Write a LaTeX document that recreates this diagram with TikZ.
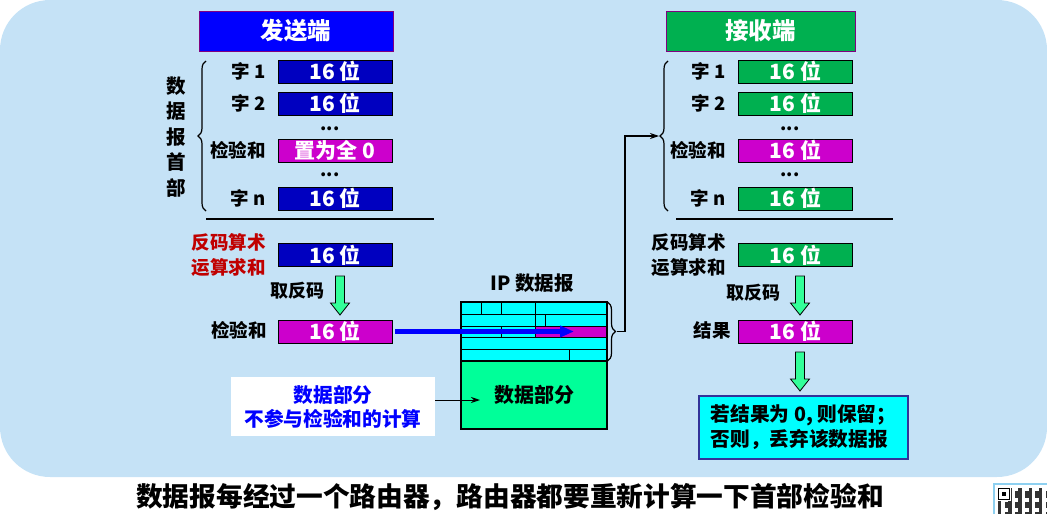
\documentclass[tikz,border=0pt]{standalone}
\usepackage{fontspec}
\setmainfont{Noto Sans CJK SC}
\usetikzlibrary{decorations.pathreplacing,arrows.meta,calc}
\definecolor{bg}{RGB}{197,226,246}
\definecolor{tblue}{RGB}{0,0,255}
\definecolor{sblue}{RGB}{0,0,192}
\definecolor{mag}{RGB}{204,0,204}
\definecolor{rgreen}{RGB}{0,176,80}
\definecolor{cyanf}{RGB}{0,255,255}
\definecolor{dgreen}{RGB}{0,255,153}
\definecolor{agreen}{RGB}{51,255,153}
\definecolor{dred}{RGB}{192,0,0}
\definecolor{rborder}{RGB}{51,51,153}
\definecolor{qrb}{RGB}{142,208,240}
\newcommand\garrow[2]{\draw[line width=0.8pt,fill=agreen,line join=miter]
  (#1-4.5,#2) -- (#1+4.5,#2) -- (#1+4.5,#2+27) -- (#1+9.5,#2+27) -- (#1,#2+39)
  -- (#1-9.5,#2+27) -- (#1-4.5,#2+27) -- cycle;}
\begin{document}
\begin{tikzpicture}[x=1pt,y=-1pt,
  lab/.style={font=\bfseries\fontsize{18.5}{25}\selectfont, anchor=east, inner sep=0pt},
  fld/.style={draw=black, line width=0.9pt, minimum width=114pt, minimum height=23pt,
    inner sep=0pt, text=white, font=\bfseries\fontsize{21}{21}\selectfont},
  sfld/.style={fld, fill=sblue},
  rfld/.style={fld, fill=rgreen},
  cfld/.style={fld, fill=mag},
  title/.style={draw={rgb,255:red,128;green,0;blue,128}, line width=0.8pt, minimum height=40pt,
    inner sep=0pt, text=white, font=\bfseries\fontsize{23.5}{23.5}\selectfont},
  dots/.style={font=\bfseries\fontsize{18}{18}\selectfont, inner sep=0pt},
  brc/.style={decorate, decoration={brace, amplitude=8pt, raise=0pt}, line width=1.2pt},
  hdr/.style={line width=0.8pt}
]
\useasboundingbox (0,0) rectangle (1047,514);
\fill[bg, rounded corners=50pt] (0,0) rectangle (1047,477);

% ---------- sender ----------
\node[title, fill=tblue, minimum width=194pt] (stitle) at (296,31) {发送端};
\node[sfld] (s1) at (335,71.5) {16 位};
\node[sfld] (s2) at (335,103.5) {16 位};
\node[cfld] (sc) at (335,150.5) {置为全 0};
\node[sfld] (sn) at (335,198.5) {16 位};
\node[lab] (ls1) at (266,71.5) {字 1};
\node[lab] (ls2) at (266,103.5) {字 2};
\node[lab] (lsc) at (266,150.5) {检验和};
\node[lab] (lsn) at (266,198.5) {字 n};
\node[dots] (sd1) at (330,129) {...};
\node[dots] (sd2) at (330,175) {...};
\draw[brc] (206,211) -- coordinate[midway] (lbm) (206,61);
\node[font=\bfseries\fontsize{19.5}{25.5}\selectfont, align=center, inner sep=0pt] (vhdr) at (176,137) {数\\据\\报\\首\\部};
\coordinate (sl1) at (206,219);
\coordinate (sl2) at (434,219);
\draw[line width=1.2pt] (sl1) -- (sl2);
\node[sfld] (ssum) at (335,255) {16 位};
\node[lab, text=dred, align=right] (lssum) at (266,255) {反码算术\\运算求和};
\garrow{340}{276}
\node[font=\bfseries\fontsize{18}{18}\selectfont, inner sep=0pt] (sinv) at (297,291) {取反码};
\node[cfld] (sck) at (335,331.5) {16 位};
\node[lab] (lsck) at (267,330.5) {检验和};

% ---------- IP datagram ----------
\node[font=\bfseries\fontsize{19.5}{19.5}\selectfont, inner sep=0pt] (iplab) at (532,283) {IP 数据报};
\node[draw=black, line width=1.6pt, fill=dgreen, minimum width=146pt, minimum height=68pt,
  inner sep=0pt, font=\bfseries\fontsize{20}{20}\selectfont] (data) at (534,395) {数据部分};
\fill[cyanf] (461,302) rectangle (607,361);
\fill[mag] (535,326) rectangle (607,337);
\draw[hdr] (461,314) -- (607,314);
\draw[hdr] (461,326) -- (607,326);
\draw[hdr] (461,337) -- (607,337);
\draw[hdr] (461,349) -- (607,349);
\draw[hdr] (481,302) -- (481,314);
\draw[hdr] (501,302) -- (501,314);
\draw[hdr] (535,302) -- (535,326);
\draw[hdr] (545,314) -- (545,326);
\draw[hdr] (501,326) -- (501,337);
\draw[hdr] (535,326) -- (535,337);
\draw[hdr] (569,349) -- (569,361);
\draw[line width=1.6pt] (461,302) rectangle (607,361);
\node[inner sep=0pt, minimum width=146pt, minimum height=59pt] (iphdr) at (534,331.5) {};
\draw[-{Triangle[length=14pt,width=11pt]}, line width=4.5pt, tblue] (sck.east) ++(3,0) -- (574,331.5);
\draw[brc] (607.5,302) -- coordinate[midway] (hbm) (607.5,361);
\coordinate (htip) at (617,331.5);
\coordinate (hbend) at (625,331.5);

\node[fill=white, minimum width=204pt, minimum height=59pt, inner sep=0pt, align=center,
  text=tblue, font=\bfseries\fontsize{19.7}{24}\selectfont] (note) at (333,406.5) {数据部分\\不参与检验和的计算};
\coordinate (nend) at (480,400);
\draw[-{Stealth[length=9pt,width=6pt]}, line width=1pt] (note.east |- nend) -- (nend);

% ---------- receiver ----------
\node[title, fill=rgreen, minimum width=189pt] (rtitle) at (760.5,31) {接收端};
\node[rfld] (r1) at (795.5,71.5) {16 位};
\node[rfld] (r2) at (795.5,103.5) {16 位};
\node[cfld] (rc) at (795.5,150.5) {16 位};
\node[rfld] (rn) at (795.5,198.5) {16 位};
\node[lab] (lr1) at (726,71.5) {字 1};
\node[lab] (lr2) at (726,103.5) {字 2};
\node[lab] (lrc) at (726,150.5) {检验和};
\node[lab] (lrn) at (726,198.5) {字 n};
\node[dots] (rd1) at (790,129) {...};
\node[dots] (rd2) at (790,175) {...};
\draw[brc] (668,211) -- coordinate[midway] (rbm) (668,61);
\coordinate (rtip) at (659,136);
\draw[line width=1.2pt, -{Stealth[length=9pt,width=6pt]}] (htip) -- (hbend) -- (hbend |- rtip) -- (rtip);
\draw[line width=1.2pt] (676,219) -- (893,219);
\node[rfld] (rsum) at (795.5,255) {16 位};
\node[lab, align=right] (lrsum) at (726,255) {反码算术\\运算求和};
\garrow{800}{276}
\node[font=\bfseries\fontsize{18}{18}\selectfont, inner sep=0pt] (rinv) at (753,293) {取反码};
\node[cfld] (rres) at (795.5,331.5) {16 位};
\node[lab] (lrres) at (731,330.5) {结果};
\garrow{800}{352}
\node[draw=rborder, line width=2pt, fill=cyanf, minimum height=63pt, minimum width=209pt,
  inner sep=0pt, align=left,
  font=\bfseries\fontsize{19.7}{25}\selectfont] (rbox) at (803.5,427.5) {若结果为 0, 则保留；\\否则，丢弃该数据报};

% ---------- caption ----------
\node[font=\bfseries\fontsize{26.7}{26.7}\selectfont, inner sep=0pt] (cap) at (510,497) {数据报每经过一个路由器，路由器都要重新计算一下首部检验和};

% ---------- QR code ----------
\draw[qrb, line width=2.5pt, fill=white] (994,484) rectangle (1050,518);
\foreach \i in {0,...,14} {
  \foreach \j in {0,...,7} {
    \pgfmathtruncatemacro\v{mod(\i*\i+3*\j+\i*\j*\j,3)}
    \ifnum\v=0 \fill[black!80] (998+\i*3.4,488+\j*3.4) rectangle ++(3.4,3.4); \fi
  }
}
\fill[white] (997,487) rectangle (1011,501);
\draw[black, line width=1.5pt] (998.5,488.5) rectangle (1009.5,499.5);
\fill[black] (1002,492) rectangle (1006,496);
\end{tikzpicture}
\end{document}
